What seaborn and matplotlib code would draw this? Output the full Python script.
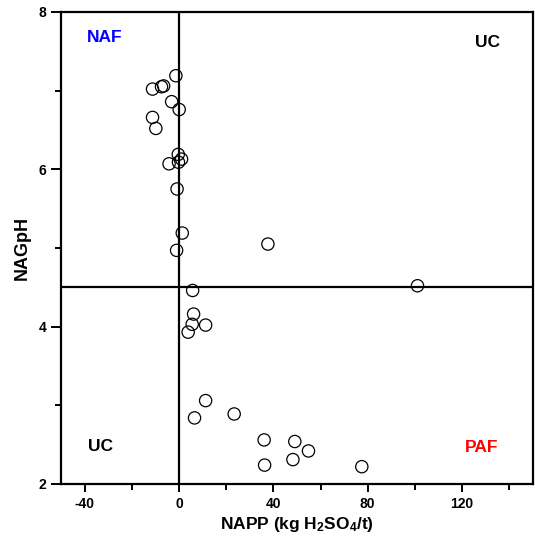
import matplotlib
matplotlib.use("Agg")
import matplotlib.pyplot as plt
import seaborn as sns
import pandas as pd
from matplotlib.ticker import MultipleLocator

napp = [-1.3, -11.2, -7.4, -6.5, -3.1, 0.1, -11.2, -9.8, -0.3, 1.1, -4.2, -0.2,
        -0.8, 1.4, -1.0, 5.8, 6.2, 5.6, 11.3, 3.9, 11.3, 6.6, 23.4, 36.1, 36.3,
        49.1, 48.3, 54.9, 77.5, 101.1, 37.7]
nagph = [7.19, 7.02, 7.05, 7.06, 6.86, 6.76, 6.66, 6.52, 6.19, 6.13, 6.07, 6.09,
         5.75, 5.19, 4.97, 4.46, 4.16, 4.03, 4.02, 3.93, 3.06, 2.84, 2.89, 2.56, 2.24,
         2.54, 2.31, 2.42, 2.22, 4.52, 5.05]

x_ticks = [-40, 0, 40, 80, 120]
y_ticks = [2, 4, 6, 8]
napp_threshold = 0
ph_threshold = 4.5

zone_labels = ["NAF", "UC", "UC", "PAF"]
zone_x = [-31.5, 130.9, -33.3, 128.4]
zone_y = [7.68, 7.61, 2.48, 2.47]
zone_colors = ["#0000ff", "black", "black", "#ff0000"]

sns.set_style("ticks")
plt.rcParams["font.family"] = ["Liberation Sans", "DejaVu Sans"]
plt.rcParams["font.weight"] = "bold"
plt.rcParams["axes.unicode_minus"] = False
plt.rcParams["text.color"] = "black"
plt.rcParams["axes.labelcolor"] = "black"
plt.rcParams["xtick.color"] = "black"
plt.rcParams["ytick.color"] = "black"
plt.rcParams["xtick.labelcolor"] = "black"
plt.rcParams["ytick.labelcolor"] = "black"
plt.rcParams["mathtext.fontset"] = "custom"
plt.rcParams["mathtext.rm"] = "Liberation Sans:bold"
plt.rcParams["mathtext.it"] = "Liberation Sans:bold"
plt.rcParams["mathtext.bf"] = "Liberation Sans:bold"

df = pd.DataFrame({"NAPP": napp, "NAGpH": nagph})

fig = plt.figure(figsize=(5.35, 5.38), dpi=100)
ax = fig.add_axes([0.114, 0.1004, 0.882, 0.8773])

ax.axvline(napp_threshold, color="black", lw=1.6, zorder=1)
ax.axhline(ph_threshold, color="black", lw=1.6, zorder=1)

sns.scatterplot(data=df, x="NAPP", y="NAGpH", ax=ax, s=78, marker="o",
                facecolors="none", edgecolor="black", linewidth=0.9, zorder=3)

ax.set_xlim(-50, 150)
ax.set_ylim(2, 8)
ax.set_xticks(x_ticks)
ax.set_yticks(y_ticks)
ax.xaxis.set_minor_locator(MultipleLocator(20))
ax.yaxis.set_minor_locator(MultipleLocator(1))
ax.tick_params(axis="both", which="major", direction="out", width=1.4,
               labelsize=10, color="black", labelcolor="black")
ax.tick_params(axis="y", which="major", length=7)
ax.tick_params(axis="y", which="minor", length=4, width=1.4, color="black")
ax.tick_params(axis="x", which="major", length=6)
ax.tick_params(axis="x", which="minor", length=4, width=1.4, color="black")
for lab in ax.get_xticklabels() + ax.get_yticklabels():
    lab.set_fontweight("bold")

for sp in ax.spines.values():
    sp.set_linewidth(1.6)
    sp.set_color("black")
    sp.set_visible(True)

ax.set_xlabel("NAPP (kg H$_2$SO$_4$/t)", fontsize=12.5, fontweight="bold",
              labelpad=3, color="black")
ax.set_ylabel("NAGpH", fontsize=13, fontweight="bold", labelpad=6, color="black")

for t, xx, yy, c in zip(zone_labels, zone_x, zone_y, zone_colors):
    ax.text(xx, yy, t, color=c, fontsize=12.5, fontweight="bold",
            ha="center", va="center")

fig.savefig("out.png", dpi=100)
